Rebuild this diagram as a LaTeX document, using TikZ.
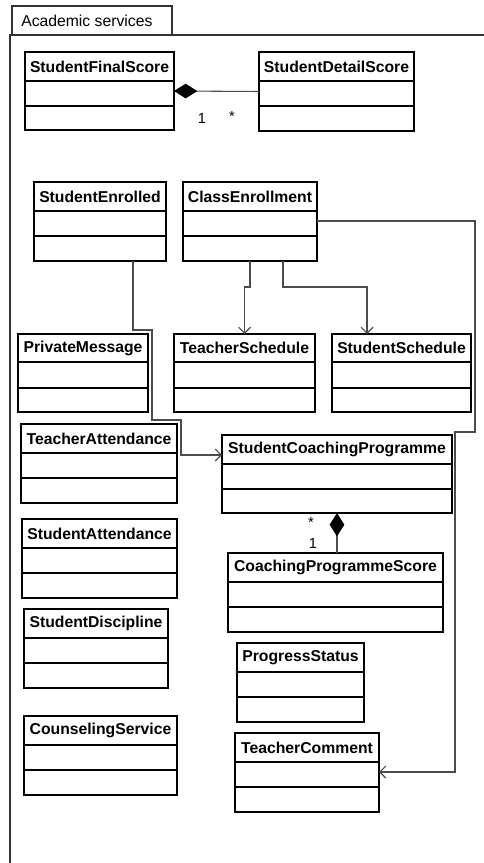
\documentclass[tikz,border=0pt]{standalone}
\usepackage{fontspec}
\setmainfont{Liberation Sans}
\usetikzlibrary{arrows.meta}

% UML class box: name, left, top, right, bottom, header bottom, middle line, title
\newcommand{\classbox}[8]{%
  \node[classframe, anchor=north west,
        minimum width={(#4-#2)*0.75pt}, minimum height={(#5-#3)*0.75pt}] (#1) at (#2,#3) {};
  \draw[compline] (#2,#6) -- (#4,#6);
  \draw[compline] (#2,#7) -- (#4,#7);
  \node[classtitle] (#1-title) at ({(#2+#4)/2},{(#3+#6)/2}) {#8};
}

\begin{document}
\begin{tikzpicture}[x=0.75pt,y=-0.75pt,
  classframe/.style={draw=black, line width=1pt, inner sep=0pt, outer sep=0pt, rectangle, fill=white},
  compline/.style={draw=black, line width=1pt},
  classtitle/.style={font=\fontsize{11.8pt}{13pt}\selectfont\bfseries, inner sep=0pt},
  link/.style={draw=black!70, line width=0.8pt},
  assoc/.style={link, -{Straight Barb[length=4.5pt,width=9pt]}},
  compos/.style={link, {Diamond[length=17.5pt,width=11pt,color=black]}-},
  mult/.style={font=\fontsize{11pt}{12pt}\selectfont, inner sep=0pt},
  pkgline/.style={draw=black!80, line width=0.8pt}
]
\useasboundingbox (0,0) rectangle (484,863);

% package frame with its name tab
\node[pkgline, anchor=north west, inner sep=0pt, outer sep=0pt,
      minimum width={160*0.75pt}, minimum height={29*0.75pt}] (tab) at (12,6) {};
\node[anchor=west, inner sep=0pt, font=\fontsize{11.8pt}{13pt}\selectfont] (tabtext) at (21,20.5) {Academic services};
\coordinate (frameNW) at (10,35);
\coordinate (frameNE) at (484,35);
\coordinate (frameSW) at (10,863);
\draw[pkgline] (frameNE) -- (frameNW) -- (frameSW);

% classes
\classbox{sfs}{25}{52}{174}{130}{81}{106}{StudentFinalScore}
\classbox{sds}{259}{52}{414}{131}{81}{106}{StudentDetailScore}
\classbox{se}{34}{182}{166}{261}{211}{236}{StudentEnrolled}
\classbox{ce}{183}{182}{317}{261}{211}{236}{ClassEnrollment}
\classbox{pm}{18}{334}{148}{412}{362}{388}{PrivateMessage}
\classbox{ts}{174}{334}{315}{412}{362}{388}{TeacherSchedule}
\classbox{ss}{332}{334}{471}{412}{362}{388}{StudentSchedule}
\classbox{ta}{21}{424}{177}{503}{453}{478}{TeacherAttendance}
\classbox{scp}{222}{435}{452}{513}{464}{489}{StudentCoachingProgramme}
\classbox{sa}{22}{519}{177}{598}{548}{573}{StudentAttendance}
\classbox{cps}{228}{553}{443}{632}{582}{607}{CoachingProgrammeScore}
\classbox{sd}{24}{609}{168}{688}{638}{663}{StudentDiscipline}
\classbox{ps}{237}{643}{364}{722}{672}{697}{ProgressStatus}
\classbox{cs}{24}{716}{177}{795}{745}{770}{CounselingService}
\classbox{tc}{235}{733}{379}{812}{762}{787}{TeacherComment}

% compositions
\draw[compos] (sfs.east) -- (sds.west);
\node[mult] (m1) at (202,118) {1};
\node[mult] (m2) at (232,116) {*};
\draw[compos] (scp.south) -- (scp.south |- cps.north);
\node[mult] (m3) at (311,522) {*};
\node[mult] (m4) at (313,543) {1};

% directed associations
\draw[assoc] (se.south -| 133,0) -- (133,330) -- (152,330) -- (152,420)
  -- (181,420) -- (181,455) -- (scp.west |- 0,455);
\draw[assoc] (ce.south -| 250,0) -- (250,287) -- (ts.north |- 0,287) -- (ts.north);
\draw[assoc] (ce.south -| 283,0) -- (283,287) -- (367,287) -- (ss.north -| 367,0);
\draw[assoc] (ce.east |- 0,221) -- (475,221) -- (475,432) -- (455,432)
  -- (455,772) -- (tc.east |- 0,772);
\end{tikzpicture}
\end{document}
